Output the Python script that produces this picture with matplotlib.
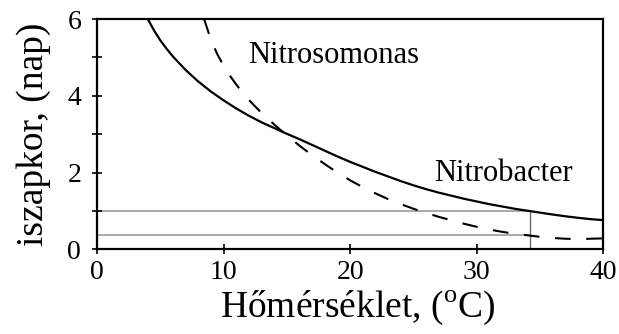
import matplotlib
matplotlib.use("Agg")
import matplotlib.pyplot as plt

# Temperature (°C) and minimum sludge age (days) for each organism
nitrobacter_t = [4.0, 4.5, 5.0, 5.5, 6.0, 7.0, 8.0, 9.0, 10.0, 11.0, 12.0, 13.0, 14.0,
                 15.0, 16.0, 17.0, 18.0, 19.0, 20.0, 21.0, 22.0, 23.0, 24.0, 25.0,
                 26.0, 27.0, 28.0, 29.0, 30.0, 31.0, 32.0, 33.0, 34.0, 35.0, 36.0,
                 37.0, 38.0, 39.0, 40.0]
nitrobacter_age = [6.00, 5.70, 5.44, 5.22, 5.02, 4.67, 4.37, 4.11, 3.88, 3.67, 3.48,
                   3.31, 3.16, 3.01, 2.87, 2.72, 2.57, 2.42, 2.28, 2.15, 2.02, 1.90,
                   1.78, 1.67, 1.57, 1.48, 1.40, 1.32, 1.25, 1.18, 1.12, 1.06, 1.01,
                   0.96, 0.91, 0.865, 0.825, 0.79, 0.765]

nitrosomonas_t = [8.45, 9.0, 9.5, 10.0, 10.5, 11.0, 11.5, 12.0, 13.0, 14.0, 15.0,
                  16.0, 17.0, 18.0, 19.0, 20.0, 21.0, 22.0, 23.0, 24.0, 25.0, 26.0,
                  27.0, 28.0, 29.0, 30.0, 31.0, 32.0, 33.0, 34.0, 35.0, 36.0, 37.0,
                  38.0, 39.0, 40.0]
nitrosomonas_age = [6.00, 5.45, 5.08, 4.78, 4.52, 4.29, 4.08, 3.89, 3.55, 3.25, 2.97,
                    2.70, 2.45, 2.22, 2.00, 1.80, 1.62, 1.46, 1.31, 1.18, 1.06, 0.95,
                    0.85, 0.76, 0.67, 0.59, 0.52, 0.46, 0.41, 0.37, 0.33, 0.30, 0.28,
                    0.27, 0.28, 0.29]

# Reference levels read at the design temperature
design_temp = 34.2
age_nitrobacter = 1.0
age_nitrosomonas = 0.37

xticks = [0, 10, 20, 30, 40]
yticks_major = [0, 2, 4, 6]
yticks_minor = [1, 3, 5]

plt.rcParams["font.family"] = ["Liberation Serif", "DejaVu Serif"]
plt.rcParams["mathtext.fontset"] = "custom"
plt.rcParams["mathtext.rm"] = "Liberation Serif"

fig = plt.figure(figsize=(6.19, 3.34), dpi=100)
ax = fig.add_axes([0.157, 0.253, 0.8177, 0.690])

grey = "#a2a2a2"
ax.plot([0, design_temp], [age_nitrobacter, age_nitrobacter], color=grey, lw=1.3, zorder=1)
ax.plot([0, design_temp], [age_nitrosomonas, age_nitrosomonas], color=grey, lw=1.3, zorder=1)
ax.plot([design_temp, design_temp], [0, age_nitrobacter], color="#6a6a6a", lw=1.0, zorder=1)

ax.plot(nitrobacter_t, nitrobacter_age, color="black", lw=1.6, zorder=3,
        solid_capstyle="butt", solid_joinstyle="round")
ax.plot(nitrosomonas_t, nitrosomonas_age, color="black", lw=1.5, zorder=3,
        dashes=(7.5, 7.5), dash_capstyle="butt")

ax.text(11.9, 5.05, "Nitrosomonas", fontsize=22, va="center", ha="left")
ax.text(26.6, 1.98, "Nitrobacter", fontsize=22, va="center", ha="left")

ax.set_xlim(0, 40)
ax.set_ylim(0, 6)
ax.set_xticks(xticks)
ax.set_yticks(yticks_major)
ax.set_yticks(yticks_minor, minor=True)
ax.tick_params(axis="both", which="both", direction="inout", length=7, width=1.2,
               labelsize=20)
ax.tick_params(axis="x", pad=4)
ax.tick_params(axis="y", pad=8)
for s in ax.spines.values():
    s.set_linewidth(1.6)

ax.set_xlabel("Hőmérséklet, ($^{\\mathrm{o}}$C)", fontsize=27)
ax.xaxis.set_label_coords(0.515, -0.17)
ax.set_ylabel("iszapkor, (nap)", fontsize=27, labelpad=12)

fig.savefig("out.png", dpi=100)
